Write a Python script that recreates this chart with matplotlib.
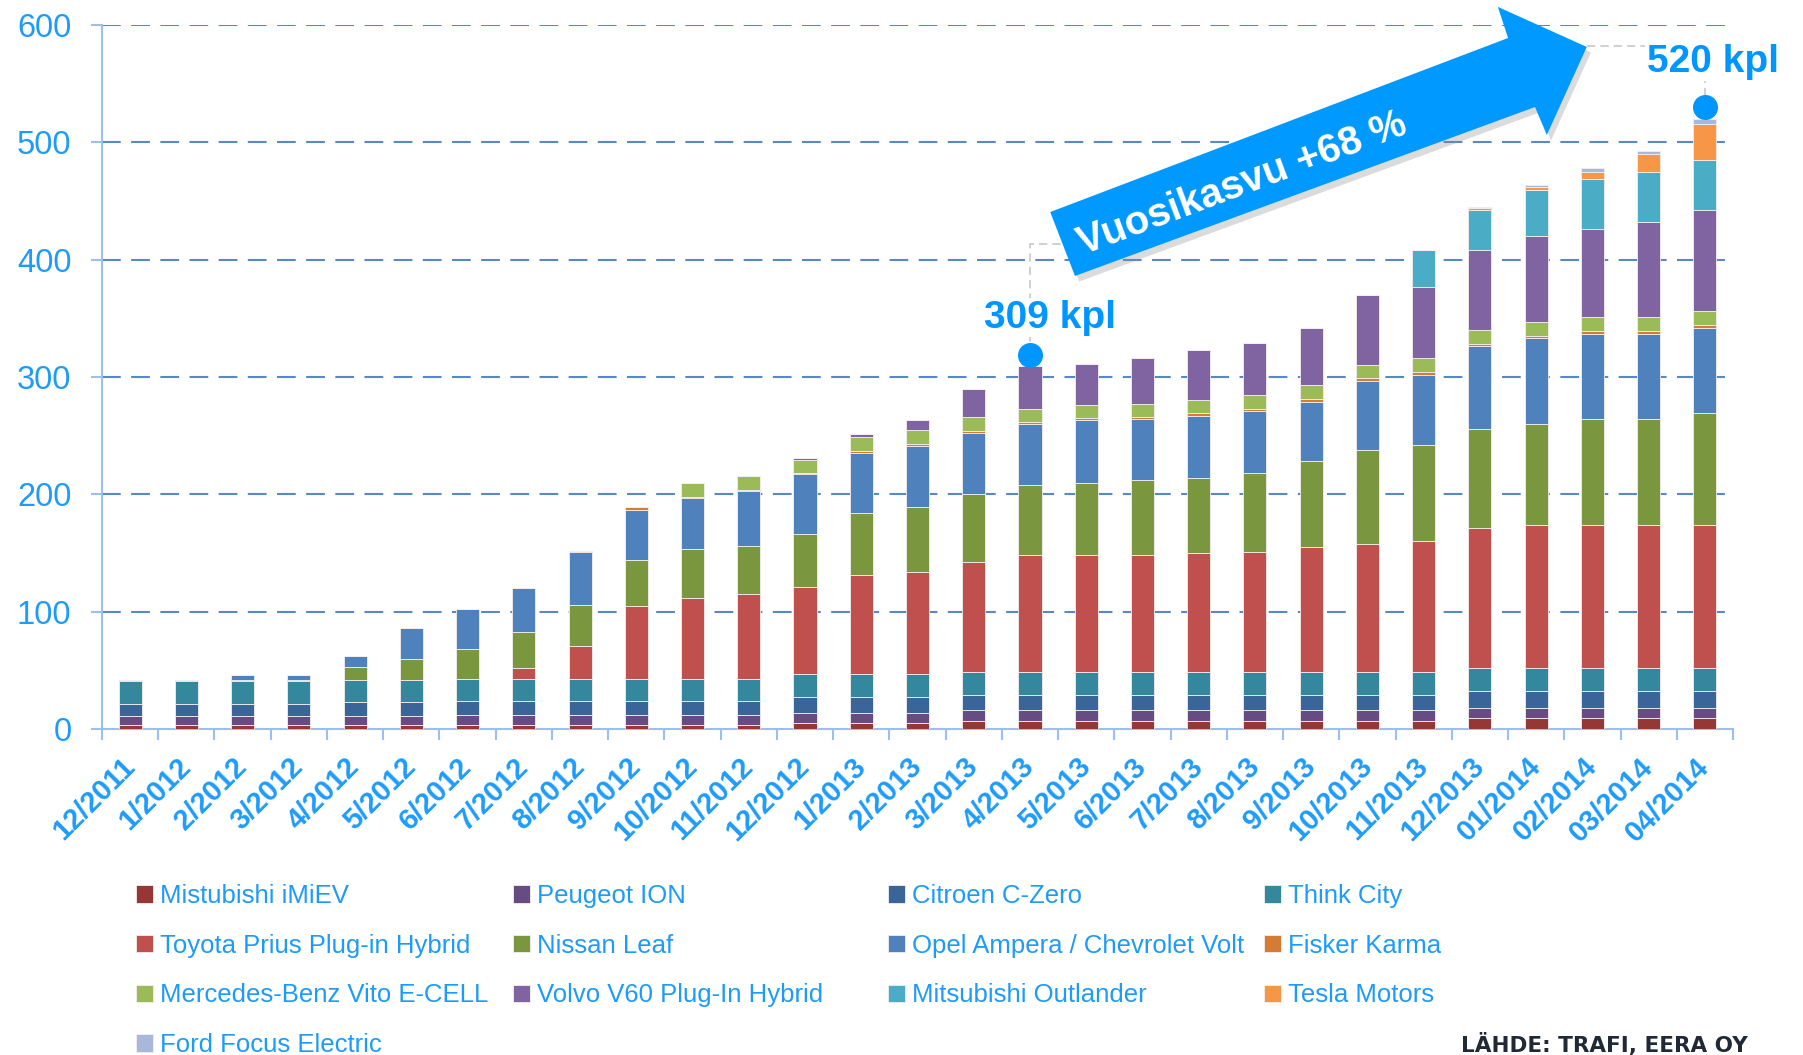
import numpy as np
import matplotlib
matplotlib.use("Agg")
import matplotlib.pyplot as plt
import matplotlib.patheffects as pe
from matplotlib.patches import Polygon

# kuukaudet
months = ["12/2011", "1/2012", "2/2012", "3/2012", "4/2012", "5/2012", "6/2012", "7/2012",
          "8/2012", "9/2012", "10/2012", "11/2012", "12/2012", "1/2013", "2/2013", "3/2013",
          "4/2013", "5/2013", "6/2013", "7/2013", "8/2013", "9/2013", "10/2013", "11/2013",
          "12/2013", "01/2014", "02/2014", "03/2014", "04/2014"]

# mallit (pinoamisjärjestys)
models = ["Mistubishi iMiEV", "Peugeot ION", "Citroen C-Zero", "Think City",
          "Toyota Prius Plug-in Hybrid", "Nissan Leaf", "Opel Ampera / Chevrolet Volt",
          "Fisker Karma", "Mercedes-Benz Vito E-CELL", "Volvo V60 Plug-In Hybrid",
          "Mitsubishi Outlander", "Tesla Motors", "Ford Focus Electric"]

colors = ["#953735", "#664C83", "#3A6598", "#35879E", "#C0504D", "#7A973F", "#4F81BD",
          "#D47B35", "#9BBB59", "#8064A2", "#4BACC6", "#F79646", "#A7B8DA"]

imiev     = [3, 3, 3, 3, 3, 3, 3, 3, 3, 3, 3, 3, 5, 5, 5, 7, 7, 7, 7, 7, 7, 7, 7, 7, 9, 9, 9, 9, 9]
peugeot   = [8, 8, 8, 8, 8, 8, 9, 9, 9, 9, 9, 9, 9, 9, 9, 9, 9, 9, 9, 9, 9, 9, 9, 9, 9, 9, 9, 9, 9]
citroen   = [10, 10, 10, 10, 12, 12, 12, 12, 12, 12, 12, 12, 13, 13, 13, 13, 13, 13, 13, 13, 13, 13, 13, 13, 14, 14, 14, 14, 14]
think     = [20, 20, 20, 20, 19, 19, 19, 19, 19, 19, 19, 19, 20, 20, 20, 20, 20, 20, 20, 20, 20, 20, 20, 20, 20, 20, 20, 20, 20]
toyota    = [0, 0, 0, 0, 0, 0, 0, 9, 28, 62, 69, 72, 74, 84, 87, 93, 99, 99, 99, 101, 102, 106, 109, 111, 119, 122, 122, 122, 122]
leaf      = [1, 1, 1, 1, 11, 18, 25, 31, 35, 39, 41, 41, 45, 53, 55, 58, 60, 62, 64, 64, 67, 73, 80, 82, 85, 86, 90, 90, 95]
ampera    = [0, 0, 4, 4, 9, 26, 34, 37, 45, 43, 44, 47, 51, 51, 52, 52, 52, 53, 52, 53, 53, 51, 59, 60, 70, 73, 73, 73, 73]
fisker    = [0, 0, 0, 0, 0, 0, 0, 0, 1, 2, 1, 1, 1, 2, 2, 2, 2, 2, 2, 2, 2, 2, 2, 2, 2, 2, 2, 2, 2]
vito      = [0, 0, 0, 0, 0, 0, 0, 0, 0, 0, 12, 12, 11, 12, 12, 12, 11, 11, 11, 11, 12, 12, 11, 12, 12, 12, 12, 12, 12]
volvo     = [0, 0, 0, 0, 0, 0, 0, 0, 0, 0, 0, 0, 2, 2, 8, 24, 36, 35, 39, 43, 44, 49, 60, 61, 68, 73, 75, 81, 86]
outlander = [0, 0, 0, 0, 0, 0, 0, 0, 0, 0, 0, 0, 0, 0, 0, 0, 0, 0, 0, 0, 0, 0, 0, 31, 34, 39, 43, 43, 43]
tesla     = [0, 0, 0, 0, 0, 0, 0, 0, 0, 0, 0, 0, 0, 0, 0, 0, 0, 0, 0, 0, 0, 0, 0, 0, 2, 3, 6, 15, 31]
focus     = [0, 0, 0, 0, 0, 0, 0, 0, 0, 0, 0, 0, 0, 0, 0, 0, 0, 0, 0, 0, 0, 0, 0, 0, 1, 2, 3, 3, 4]

series = [imiev, peugeot, citroen, think, toyota, leaf, ampera, fisker, vito, volvo,
          outlander, tesla, focus]

yticks = [0, 100, 200, 300, 400, 500, 600]
highlight = [16, 28]   # 4/2013 ja 04/2014

blue_txt = "#1E9BFA"
axis_col = "#9ABFF5"
grid_col = "#5A88C4"

plt.rcParams['font.family'] = ['Liberation Sans', 'DejaVu Sans']

fig = plt.figure(figsize=(18.03, 10.55), dpi=100)
ax = fig.add_axes([102 / 1803, 1 - 729 / 1055, (1733 - 102) / 1803, (729 - 25) / 1055])

x = np.arange(len(months))
bottom = np.zeros(len(months))
bars = []
for vals, col, name in zip(series, colors, models):
    b = ax.bar(x, vals, 0.41, bottom=bottom, color=col, edgecolor="#F4EEEE",
               linewidth=0.6, label=name, zorder=3)
    bars.append(b)
    bottom = bottom + np.array(vals)
totals = bottom

ax.set_xlim(-0.5, len(months) - 0.5)
ax.set_ylim(0, 600)

# ruudukko
for yv in yticks[1:]:
    ax.axhline(yv, color=grid_col, lw=1.5, dashes=(9, 5), zorder=1)

for s in ["top", "right"]:
    ax.spines[s].set_visible(False)
for s in ["left", "bottom"]:
    ax.spines[s].set_color(axis_col)
    ax.spines[s].set_linewidth(1.5)

ax.set_yticks(yticks)
ax.set_yticklabels([str(v) for v in yticks], fontsize=23.5, color=blue_txt)
ax.tick_params(axis="y", length=8, width=1.5, color=axis_col, pad=14)

ax.set_xticks(x)
ax.set_xticklabels(months, rotation=45, ha="right", va="center",
                   rotation_mode="anchor", fontsize=21, fontweight="bold", color=blue_txt)
ax.tick_params(axis="x", length=0, pad=24)
ax.set_xticks(np.arange(-0.5, len(months)), minor=True)
ax.tick_params(axis="x", which="minor", length=8, width=1.5, color=axis_col)

# nuoli
arrow_pts = [(16.36, 440.6), (24.50, 588.9), (24.32, 615.4), (25.90, 581.3),
             (25.19, 506.3), (24.98, 530.1), (16.80, 386.1)]
arrow = Polygon(arrow_pts, closed=True, facecolor="#0099FF", edgecolor="none",
                clip_on=False, zorder=6)
arrow.set_path_effects([pe.SimplePatchShadow(offset=(3, -4), shadow_rgbFace="#888888", alpha=0.3),
                        pe.Normal()])
ax.add_patch(arrow)
ax.text(19.78, 465, "Vuosikasvu +68 %", rotation=20.5, ha="center", va="center",
        fontsize=29, fontweight="bold", color="white", zorder=7)

# korostetut pisteet
dot_y = [totals[i] + 10 for i in highlight]
ax.plot(highlight, dot_y, "o", color="#0096FF", markersize=17, zorder=8, clip_on=False)

i0, i1 = highlight
ax.plot([i0, i0, i0 + 0.55], [dot_y[0], 413, 413], color="#C8C8C8", lw=1.2,
        ls=(0, (5, 3)), zorder=2, clip_on=False)
ax.plot([25.9, i1, i1], [582, 582, dot_y[1]], color="#C8C8C8", lw=1.2,
        ls=(0, (5, 3)), zorder=2, clip_on=False)

ax.text(i0 + 0.36, totals[i0] + 33, "%d kpl" % totals[i0], ha="center", va="baseline",
        fontsize=28, fontweight="bold", color="#0096FF", zorder=9,
        bbox=dict(facecolor="white", edgecolor="none", pad=1))
ax.text(i1 + 0.14, totals[i1] + 40, "%d kpl" % totals[i1], ha="center", va="baseline",
        fontsize=28, fontweight="bold", color="#0096FF", zorder=9, clip_on=False,
        bbox=dict(facecolor="white", edgecolor="none", pad=1))

# selite, 4 saraketta rivi kerrallaan
col_x = [136 / 1803, 513 / 1803, 888 / 1803, 1264 / 1803]
for c in range(4):
    idx = list(range(c, len(models), 4))
    leg = fig.legend([bars[i] for i in idx], [models[i] for i in idx],
                     loc="upper left", bbox_to_anchor=(col_x[c], 1 - 884 / 1055),
                     frameon=False, fontsize=18.5, labelcolor=blue_txt,
                     handlelength=0.65, handleheight=0.65, handletextpad=0.3,
                     labelspacing=1.0, borderpad=0, borderaxespad=0)

fig.text(1748 / 1803, 1 - 1052 / 1055, "LÄHDE: TRAFI, EERA OY", ha="right", va="baseline",
         fontsize=15.5, fontweight="bold", color="#1F2A36", family="DejaVu Sans")

plt.savefig("out.png", dpi=100)
